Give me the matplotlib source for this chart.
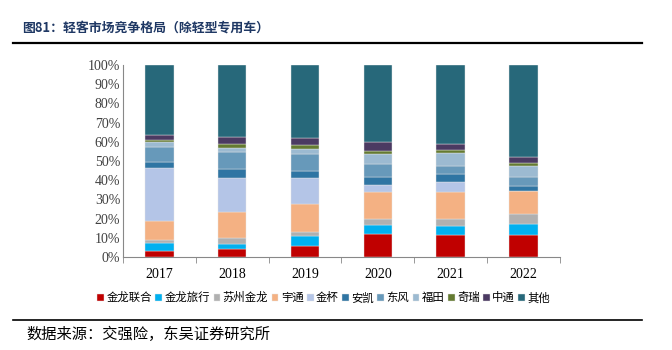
import numpy as np
import matplotlib.pyplot as plt

plt.rcParams['font.family'] = ['Liberation Serif', 'Noto Sans CJK SC']

years = ['2017', '2018', '2019', '2020', '2021', '2022']
brands = ['金龙联合', '金龙旅行', '苏州金龙', '宇通', '金杯', '安凯', '东风', '福田', '奇瑞', '中通', '其他']

# shares in %, one list per brand, years 2017..2022
jinlong_lianhe = [3.1, 4.0, 5.9, 12.2, 11.3, 11.3]
jinlong_lvxing = [3.9, 2.6, 5.1, 4.5, 5.0, 5.7]
suzhou_jinlong = [2.0, 3.1, 2.2, 3.0, 3.2, 5.4]
yutong = [9.6, 13.8, 14.5, 14.0, 14.2, 11.9]
jinbei = [27.8, 17.7, 13.3, 3.9, 5.4, 0.3]
ankai = [3.0, 4.5, 3.7, 4.0, 3.9, 2.3]
dongfeng = [7.8, 9.1, 8.7, 6.9, 4.3, 4.5]
futian = [2.8, 2.1, 2.6, 5.4, 7.1, 6.1]
qirui = [1.0, 2.2, 2.1, 1.4, 1.1, 1.4]
zhongtong = [2.7, 3.5, 4.0, 4.5, 3.3, 3.3]
qita = [36.3, 37.4, 37.9, 40.2, 41.2, 47.8]

series = [jinlong_lianhe, jinlong_lvxing, suzhou_jinlong, yutong, jinbei, ankai,
          dongfeng, futian, qirui, zhongtong, qita]
colors = ['#C00000', '#00B0F0', '#B0B0B0', '#F4B183', '#B4C5E7', '#2F75A3',
          '#6799BA', '#9CBAD1', '#647A31', '#4B3A62', '#27687A']

fig = plt.figure(figsize=(6.72, 3.5), dpi=100)
ax = fig.add_axes([0.183, 0.266, 0.650, 0.548])

x = np.arange(len(years))
bottom = np.zeros(len(years))
for name, vals, c in zip(brands, series, colors):
    ax.bar(x, vals, 0.39, bottom=bottom, color=c, label=name,
           edgecolor='#e6e6e6', linewidth=0.3)
    bottom += np.array(vals)

ax.set_xlim(-0.5, 5.5)
ax.set_ylim(0, 100)
ax.set_yticks(np.arange(0, 101, 10))
ax.set_yticklabels([f'{v}%' for v in range(0, 101, 10)], fontsize=10, color='#404040')
ax.set_xticks(x)
ax.set_xticklabels(years, fontsize=10)
ax.set_xticks(np.arange(-0.5, 6, 1), minor=True)
ax.tick_params(axis='x', which='major', length=0, pad=8)
ax.tick_params(axis='x', which='minor', length=4, color='#888888', direction='out')
ax.tick_params(axis='y', length=0, pad=2)
for s in ['top', 'right']:
    ax.spines[s].set_visible(False)
ax.spines['left'].set_color('#888888')
ax.spines['bottom'].set_color('#888888')

ax.legend(loc='upper center', bbox_to_anchor=(0.46, -0.13), ncol=11, frameon=False,
          handlelength=0.6, handleheight=0.6, handletextpad=0.2,
          columnspacing=0.3, prop={'family': ['Noto Sans CJK SC'], 'size': 8.2})

fig.text(0.033, 0.922, '图81：轻客市场竞争格局（除轻型专用车）', fontsize=9.3, fontweight='bold',
         color='#1F3864', family=['Noto Sans CJK SC'], va='center')
fig.add_artist(plt.Line2D([0.02, 0.955], [0.877, 0.877], color='black', lw=1.6))
fig.add_artist(plt.Line2D([0.02, 0.955], [0.086, 0.086], color='black', lw=1.2))
fig.text(0.04, 0.043, '数据来源：交强险，东吴证券研究所', fontsize=11,
         family=['Noto Sans CJK SC'], va='center')

fig.savefig('out.png', dpi=100)
